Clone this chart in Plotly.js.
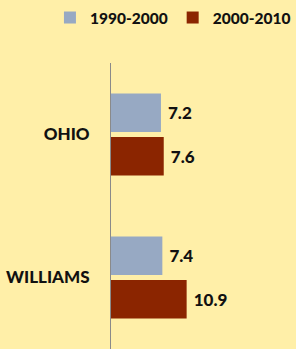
<!DOCTYPE html>
<html><head><meta charset="utf-8">
<script src="https://cdn.plot.ly/plotly-3.0.1.min.js"></script>
<style>html,body{margin:0;padding:0;background:#FFEFA8;}</style>
</head><body><div id="chart" style="width:296px;height:349px;"></div>
<script>
const categories = ['OHIO', 'WILLIAMS'];
const seriesNames = ['1990-2000', '2000-2010'];
const values1990 = [7.2, 7.4];
const values2000 = [7.6, 10.9];
const colors = ['#97A9C3', '#8B2500'];

const fnt = {family: 'Lato, "Open Sans", sans-serif', size: 17, color: '#111', weight: 900};
const traces = [values1990, values2000].map((vals, i) => ({
  type: 'bar', orientation: 'h', name: seriesNames[i],
  y: categories, x: vals,
  marker: {color: colors[i], line: {width: 0}},
  text: vals.map(v => ' ' + v.toFixed(1)),
  textposition: 'outside', cliponaxis: false,
  textfont: fnt, hoverinfo: 'none'
}));

const layout = {
  width: 296, height: 349,
  paper_bgcolor: '#FFEFA8', plot_bgcolor: '#FFEFA8',
  margin: {l: 111, r: 0, t: 63, b: 0, autoexpand: false},
  barmode: 'group', bargap: 0.39, bargroupgap: 0.12,
  showlegend: true,
  legend: {orientation: 'h', x: -0.33, xanchor: 'left', y: 1.217, yanchor: 'top',
           font: {family: 'Lato, sans-serif', size: 15.5, color: '#111', weight: 900},
           traceorder: 'normal', bgcolor: 'rgba(0,0,0,0)', itemwidth: 30},
  xaxis: {range: [0, 26.66], visible: false, fixedrange: true},
  yaxis: {autorange: 'reversed', showline: true, linecolor: '#8A8A8A', linewidth: 1,
          ticks: '', showgrid: false, zeroline: false, ticklabelstandoff: 17,
          tickfont: fnt}
};
Plotly.newPlot('chart', traces, layout, {displayModeBar: false, staticPlot: true});
</script></body></html>
